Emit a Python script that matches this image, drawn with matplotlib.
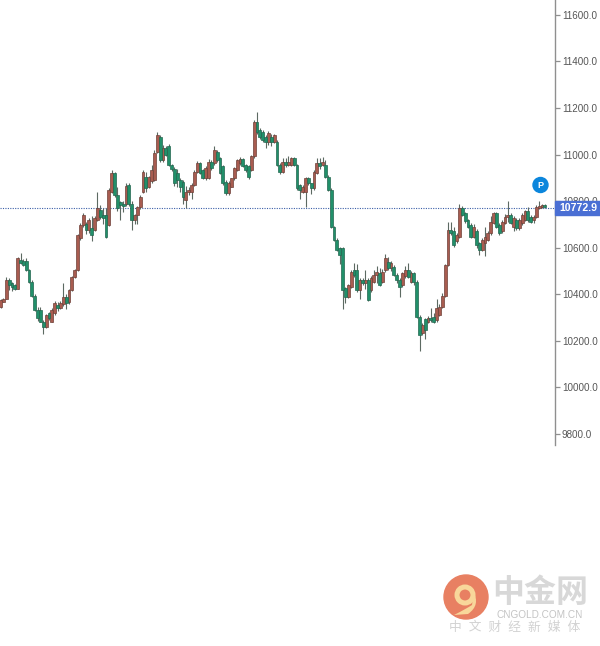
import matplotlib
matplotlib.use("Agg")
import matplotlib.pyplot as plt
from matplotlib.patches import Circle, PathPatch
from matplotlib.path import Path
import numpy as np

opens = [10347,10368,10380,10462,10450,10440,10425,10548,10545,10545,10505,10455,10395,10333,10333,10283,10261,10318,10283,10318,10355,10340,10358,10390,10368,10418,10475,10505,10640,10698,10700,10675,10683,10677,10720,10762,10740,10740,10698,10840,10920,10827,10798,10790,10790,10870,10790,10720,10740,10775,10840,10905,10860,10885,10890,11012,11077,10977,11027,11035,10956,10940,10920,10892,10884,10805,10840,10840,10870,10927,10962,
 10934,10899,10900,10970,10963,11013,10985,10949,10884,10834,10863,10898,10935,10963,10980,10956,10949,10934,10992,11142,11106,11099,11077,11056,11077,11056,11056,10956,10927,10970,10956,10956,10984,10956,10870,10841,10841,10898,10877,10856,10920,10963,10956,10956,10906,10848,10691,10634,10598,10598,10426,10390,10433,10505,10505,10419,10462,10447,10462,10419,10455,10483,10490,10455,
 10504,10540,10512,10519,10483,10462,10440,10480,10505,10455,10490,10455,10304,10232,10296,10282,10297,10304,10290,10311,10347,10395,10526,
 10677,10670,10627,10648,10770,10748,10720,10698,10648,10670,10620,10591,10620,10634,10662,10705,10748,10698,10670,10705,10734,10741,10691,10720,10684,10705,10720,10756,10734,10720,10734,10770,10777,10785]
closes = [10376,10380,10462,10440,10430,10425,10555,10535,10527,10505,10455,10395,10333,10297,10283,10261,10311,10297,10333,10362,10340,10362,10390,10362,10418,10475,10505,10655,10698,10740,10675,10720,10655,10727,10770,10734,10727,10648,10848,10920,10827,10770,10784,10780,10865,10790,10720,10740,10775,10820,10925,10855,10905,10935,11005,11085,10977,11027,11000,10956,10940,10877,10890,10863,10820,10840,10850,10870,10925,10962,10920,
 10899,10941,10970,10941,11020,10977,10920,10877,10834,10877,10898,10941,10977,10980,10949,10934,10906,10992,11142,11099,11077,11063,11056,11092,11056,11085,10956,10927,10970,10956,10970,10984,10956,10856,10848,10863,10898,10877,10856,10927,10963,10949,10970,10906,10848,10691,10634,10591,10569,10419,10390,10440,10497,10483,10419,10462,10447,10462,10376,10469,10483,10497,10440,10497,
 10555,10512,10533,10483,10462,10433,10490,10505,10476,10490,10455,10304,10225,10268,10247,10297,10290,10282,10340,10347,10395,10526,10675,
 10662,10612,10655,10770,10741,10713,10691,10648,10691,10612,10591,10634,10648,10662,10712,10748,10691,10662,10712,10734,10741,10705,10727,10684,10720,10741,10756,10720,10712,10734,10777,10781,10784,10775]
highs = [10380,10385,10475,10470,10455,10445,10560,10577,10550,10555,10510,10460,10400,10345,10345,10290,10315,10325,10340,10370,10365,10370,10450,10400,10425,10480,10510,10660,10705,10750,10710,10727,10735,10735,10840,10785,10770,10770,10855,10935,10925,10860,10800,10800,10880,10880,10800,10745,10780,10825,10935,10925,10910,10955,11020,11097,11085,11040,11035,11045,10960,10945,10940,10900,10890,10865,10860,10880,10935,10972,10970,
 10940,10950,10980,10975,11035,11020,10990,10955,10890,10885,10900,10945,10980,10990,10985,10960,10955,10998,11150,11182,11115,11105,11085,11100,11090,11090,11062,10962,10985,10985,10995,10990,10990,10960,10875,10870,10905,10905,10880,10935,10985,10985,10990,10975,10912,10855,10695,10640,10605,10605,10430,10445,10503,10535,10530,10470,10470,10505,10470,10478,10505,10520,10515,10510,
 10573,10560,10545,10525,10490,10470,10495,10520,10535,10500,10495,10460,10310,10275,10300,10305,10340,10320,10380,10360,10405,10530,10712,
 10712,10690,10665,10790,10780,10755,10725,10705,10700,10680,10625,10640,10690,10670,10735,10755,10755,10705,10720,10745,10800,10748,10735,10727,10727,10750,10762,10775,10740,10740,10782,10800,10790,10790]
lows = [10340,10365,10378,10420,10415,10420,10423,10530,10522,10500,10450,10390,10330,10285,10280,10228,10255,10290,10280,10312,10330,10335,10350,10335,10360,10415,10470,10500,10635,10690,10660,10665,10630,10670,10715,10725,10700,10640,10695,10835,10820,10760,10720,10755,10780,10780,10675,10700,10700,10765,10835,10840,10855,10880,10885,11005,10970,10970,10995,10950,10930,10865,10860,10840,10790,10770,10825,10810,10865,10920,10915,
 10895,10890,10895,10935,10955,10970,10915,10870,10825,10825,10860,10890,10930,10955,10945,10925,10895,10928,10985,11090,11065,11055,11030,11040,11035,11050,10950,10918,10920,10945,10950,10950,10950,10850,10810,10835,10775,10870,10830,10850,10915,10940,10950,10900,10842,10685,10628,10585,10530,10335,10362,10385,10428,10475,10412,10380,10440,10425,10370,10412,10450,10450,10435,10450,
 10498,10505,10500,10478,10450,10390,10432,10472,10470,10450,10440,10298,10155,10225,10210,10275,10280,10275,10283,10305,10340,10390,10520,
 10655,10605,10620,10640,10735,10705,10685,10640,10640,10600,10570,10585,10565,10628,10655,10700,10685,10655,10665,10700,10712,10700,10670,10678,10678,10698,10715,10712,10705,10708,10728,10765,10770,10770]
price_ticks = [9800, 10000, 10200, 10400, 10600, 10800, 11000, 11200, 11400, 11600]
last_price = 10772.9

plt.rcParams['font.family'] = ['Liberation Sans', 'Noto Sans CJK SC', 'DejaVu Sans']
W, H = 600, 646
fig = plt.figure(figsize=(W/100, H/100), dpi=100, facecolor='white')
ax = fig.add_axes([0, (H-445)/H, 555/W, 445/H])
ax.set_ylim(9753, 11664)
n = len(opens)
STEP = 2.85
ax.set_xlim(-0.2, 555/STEP - 0.2)
o, c, hi, lo = map(np.array, (opens, closes, highs, lows))
idx = np.arange(n)
up = c >= o
RED, GREEN = '#a85c50', '#21906a'
ax.vlines(idx, lo, hi, color='#5c6a62', lw=0.8, zorder=2)
ax.bar(idx[up], (c-o)[up], bottom=o[up], width=1.0, color=RED, edgecolor='#6e4038', lw=0.5, zorder=3)
ax.bar(idx[~up], (c-o)[~up], bottom=o[~up], width=1.0, color=GREEN, edgecolor='#23664f', lw=0.5, zorder=3)
ax.axhline(last_price, color='#3c5fa8', lw=0.8, ls=(0, (1, 1.2)), zorder=1)

for s in ('top', 'left', 'bottom'):
    ax.spines[s].set_visible(False)
ax.spines['right'].set_color('#8f8f8f')
ax.spines['right'].set_linewidth(1.0)
ax.set_xticks([])
ax.yaxis.tick_right()
ax.set_yticks(price_ticks)
ax.set_yticklabels([f'{t:.1f}' for t in price_ticks], fontsize=7.1, color='#555555')
ax.tick_params(axis='y', length=3.5, width=0.9, color='#8f8f8f', pad=1.5)

ov = fig.add_axes([0, 0, 1, 1], facecolor='none')
ov.set_xlim(0, W); ov.set_ylim(H, 0); ov.axis('off')
# last-price tag
ov.add_patch(plt.Rectangle((555, 201), 45, 13.5, color='#4a6fd4', zorder=5))
ov.text(578, 208, f'{last_price:.1f}', color='white', fontsize=7.6, fontweight='bold', ha='center', va='center', zorder=6)
# position marker
ov.add_patch(Circle((540.5, 185), 7.5, color='#0b86dc', zorder=5))
ov.text(540.5, 185, 'P', color='white', fontsize=6.5, fontweight='bold', ha='center', va='center', zorder=6)
# watermark
ov.add_patch(Circle((466, 597), 22, color='#e88062', zorder=5))
ov.add_patch(Circle((465, 595), 8, facecolor='none', edgecolor='#f8d79a', lw=3.6, zorder=6))
ov.add_patch(PathPatch(Path([(473,591),(481,605),(468,614),(454,615),(466,609),(472,605),(473,598),(473,591)],
                            [Path.MOVETO,Path.CURVE3,Path.CURVE3,Path.LINETO,Path.CURVE3,Path.CURVE3,Path.LINETO,Path.CLOSEPOLY]),
                       facecolor='#f8d79a', edgecolor='none', zorder=6))
ov.text(540, 594, '中金网', color='#d8d8d8', fontsize=23, fontweight='bold', ha='center', va='center', zorder=5)
ov.text(540, 615, 'CNGOLD.COM.CN', color='#c4c4c4', fontsize=7.2, ha='center', va='center', zorder=5)
ov.text(514.5, 628, '中  文  财  经  新  媒  体', color='#d2d2d2', fontsize=9.2, ha='center', va='center', zorder=5)

fig.savefig('out.png', dpi=100)
